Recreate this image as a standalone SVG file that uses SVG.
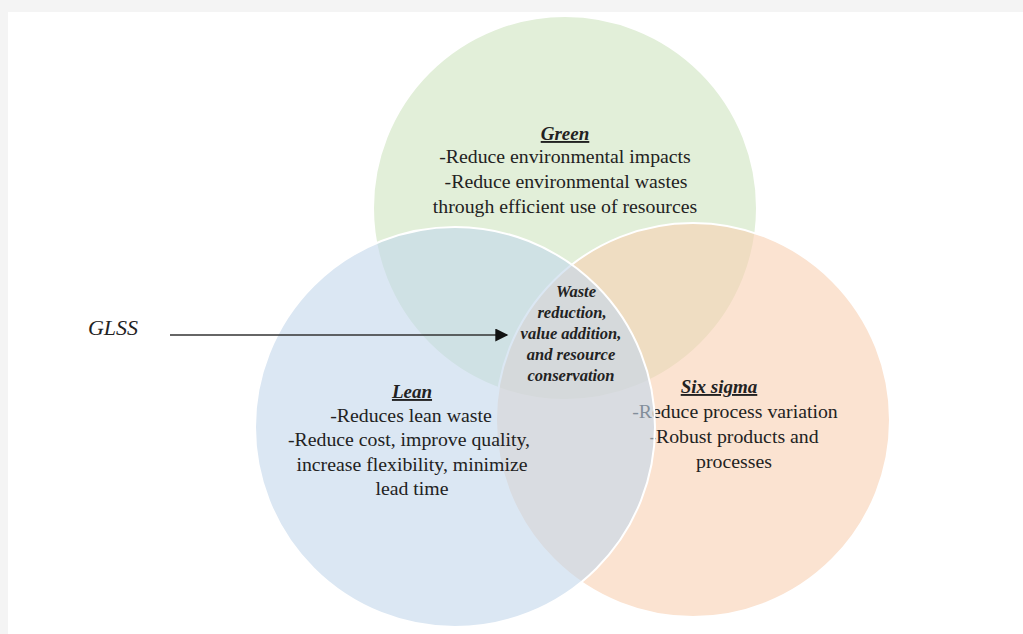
<svg xmlns="http://www.w3.org/2000/svg" width="1023" height="634" viewBox="0 0 1023 634">
  <style>
    .t { font-family: "Liberation Serif", "Times New Roman", serif; fill: #222; text-anchor: middle; }
    .body { font-size: 19.8px; }
    .head { font-size: 19px; font-weight: bold; font-style: italic; text-decoration: underline; }
    .core { font-size: 16.5px; font-weight: bold; font-style: italic; }
    .set { stroke: #ffffff; stroke-width: 2; fill-opacity: 0.6; }
  </style>
  <defs>
    <marker id="arrow" viewBox="0 0 10 10" refX="9" refY="5" markerWidth="14" markerHeight="13" markerUnits="userSpaceOnUse" orient="auto">
      <path d="M0,0 L10,5 L0,10 z" fill="#111"/>
    </marker>
  </defs>

  <!-- page -->
  <rect x="0" y="0" width="1023" height="634" fill="#f4f4f4"/>
  <rect x="8" y="12" width="1015" height="622" fill="#ffffff"/>

  <!-- Green set -->
  <g id="green">
    <circle class="set" cx="565" cy="208" r="192" fill="#cfe4c0"/>
    <text class="t head" x="565" y="140">Green</text>
    <text class="t body" x="565" y="163">-Reduce environmental impacts</text>
    <text class="t body" x="566" y="188">-Reduce environmental wastes</text>
    <text class="t body" x="565" y="213">through efficient use of resources</text>
  </g>

  <!-- Six sigma set -->
  <g id="sixsigma">
    <circle class="set" cx="693" cy="420" r="197" fill="#f8d0b2"/>
    <text class="t head" x="719" y="393">Six sigma</text>
    <text class="t body" x="735" y="418">-Reduce process variation</text>
    <text class="t body" x="734" y="443">-Robust products and</text>
    <text class="t body" x="734" y="468">processes</text>
  </g>

  <!-- Lean set -->
  <g id="lean">
    <circle class="set" cx="455" cy="427" r="200" fill="#c3d7eb"/>
    <text class="t head" x="412" y="398">Lean</text>
    <text class="t body" x="411" y="422">-Reduces lean waste</text>
    <text class="t body" x="409" y="446">-Reduce cost, improve quality,</text>
    <text class="t body" x="412" y="471">increase flexibility, minimize</text>
    <text class="t body" x="412" y="495">lead time</text>
  </g>

  <!-- GLSS intersection -->
  <g id="glss-core">
    <text class="t core" x="576" y="297">Waste</text>
    <text class="t core" x="572" y="318">reduction,</text>
    <text class="t core" x="571" y="339">value addition,</text>
    <text class="t core" x="571" y="360">and resource</text>
    <text class="t core" x="571" y="381">conservation</text>
  </g>

  <g id="glss-label">
    <text x="113" y="335" font-family="Liberation Serif, serif" font-style="italic" font-size="22" fill="#222" text-anchor="middle">GLSS</text>
  </g>

  <!-- connectors -->
  <g id="connectors">
    <line x1="170" y1="335" x2="507" y2="335" stroke="#333" stroke-width="1.5" marker-end="url(#arrow)"/>
  </g>
</svg>
